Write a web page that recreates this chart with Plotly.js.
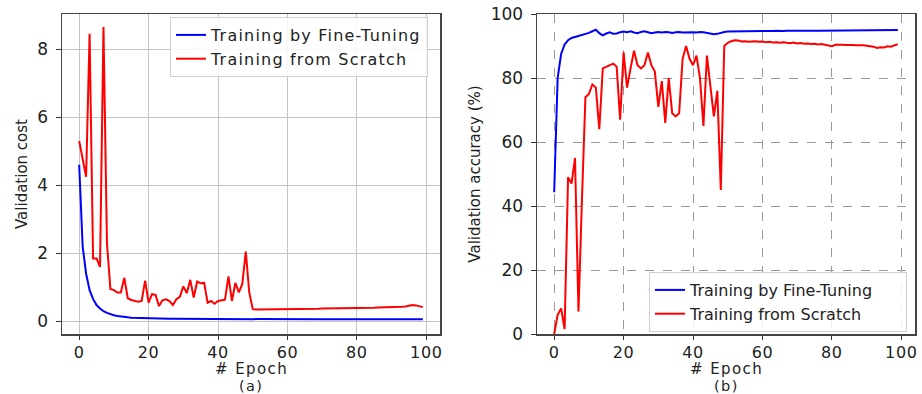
<!DOCTYPE html>
<html>
<head>
<meta charset="utf-8">
<script src="https://cdn.plot.ly/plotly-3.0.1.min.js"></script>
<style>
html,body{margin:0;padding:0;background:#fff;}
#chart{width:922px;height:394px;}
.legendtext{letter-spacing:1.2px;}
.annotation-text{letter-spacing:1.4px;}
.xtick text, .x2tick text{letter-spacing:0.6px;}
</style>
</head>
<body>
<div id="chart"></div>
<script>
// Epochs 0..99
const epochs = [0,1,2,3,4,5,6,7,8,9,10,11,12,13,14,15,16,17,18,19,20,21,22,23,24,25,26,27,28,29,30,31,32,33,34,35,36,37,38,39,40,41,42,43,44,45,46,47,48,49,50,51,52,53,54,55,56,57,58,59,60,61,62,63,64,65,66,67,68,69,70,71,72,73,74,75,76,77,78,79,80,81,82,83,84,85,86,87,88,89,90,91,92,93,94,95,96,97,98,99];

// (a) Validation cost
const costFineTuning = [4.6,2.2,1.4,0.92,0.66,0.48,0.38,0.3,0.25,0.21,0.18,0.16,0.14,0.13,0.12,0.11,0.105,0.1,0.095,0.09,0.088,0.085,0.083,0.081,0.08,0.078,0.077,0.076,0.075,0.074,0.073,0.072,0.071,0.07,0.07,0.069,0.068,0.068,0.067,0.067,0.066,0.066,0.065,0.065,0.065,0.064,0.064,0.064,0.063,0.063,0.063,0.063,0.062,0.062,0.062,0.062,0.062,0.061,0.061,0.061,0.061,0.061,0.061,0.06,0.06,0.06,0.06,0.06,0.06,0.06,0.06,0.06,0.06,0.06,0.06,0.06,0.06,0.06,0.06,0.06,0.06,0.06,0.06,0.06,0.06,0.06,0.06,0.06,0.06,0.06,0.06,0.06,0.06,0.06,0.06,0.06,0.06,0.06,0.06,0.06];
const costScratch = [5.3,4.8,4.25,8.45,1.85,1.85,1.6,8.65,2.3,0.95,0.92,0.85,0.85,1.28,0.68,0.63,0.6,0.58,0.6,1.2,0.55,0.8,0.78,0.45,0.62,0.65,0.6,0.48,0.65,0.72,1.03,0.83,1.22,0.7,1.17,1.12,1.13,0.55,0.6,0.52,0.6,0.62,0.64,1.32,0.6,1.13,0.85,1.1,2.05,0.85,0.36,0.35,0.35,0.35,0.35,0.35,0.35,0.35,0.35,0.36,0.36,0.36,0.36,0.36,0.36,0.37,0.37,0.37,0.37,0.37,0.38,0.38,0.38,0.38,0.38,0.39,0.39,0.39,0.39,0.39,0.4,0.4,0.4,0.4,0.4,0.4,0.41,0.41,0.41,0.41,0.42,0.42,0.42,0.43,0.44,0.46,0.48,0.47,0.44,0.42];

// (b) Validation accuracy (%)
const accFineTuning = [44.3,80,87.5,90.5,91.8,92.5,92.8,93.1,93.4,93.8,94.1,94.6,95.1,94,93.3,93.9,94.3,93.8,93.9,94.3,94.5,94.3,94.6,94.2,94,94.4,94.6,94.3,94,94.2,94.4,94.2,94.4,94.3,94.1,94.3,94.4,94.2,94.3,94.4,94.3,94.2,94.4,94.3,94.1,93.9,93.7,93.8,94.2,94.4,94.5,94.5,94.6,94.6,94.5,94.6,94.6,94.7,94.6,94.7,94.7,94.6,94.7,94.7,94.8,94.7,94.7,94.8,94.7,94.8,94.8,94.7,94.8,94.8,94.7,94.8,94.8,94.8,94.8,94.9,94.8,94.8,94.8,94.9,94.8,94.8,94.9,94.8,94.9,94.9,94.8,94.9,94.9,94.8,94.9,94.9,94.9,94.9,95,95];
const accScratch = [0,6,8,1.5,49,47,55,7,42,74,75,78,77,64,83,83.5,84,84.5,83.5,67,88,77,83,88.5,84,83,84,88,84,82,71,79,66,80,69,68,69,86,90,86,84,87,80,65,87,78,68,76,45,90,91,91.5,91.8,91.7,91.4,91.5,91.3,91.4,91.5,91.3,91.4,91.2,91.3,91.1,91.2,91,91.2,91,90.9,91.1,90.8,90.9,90.7,90.8,90.6,90.7,90.5,90.6,90.4,90.3,89.9,90.4,90.5,90.4,90.3,90.4,90.3,90.2,90.3,90.2,90.1,90,89.8,89.4,89.6,89.5,89.9,89.8,90.2,90.6];

const seriesNames = ['Training by Fine-Tuning', 'Training from Scratch'];
const xTicks = [0,20,40,60,80,100];
const costTicks = [0,2,4,6,8];
const accTicks = [0,20,40,60,80,100];
const xTitle = '# Epoch';
const yTitles = ['Validation cost', 'Validation accuracy (%)'];
const panelLabels = ['(a)', '(b)'];

const FONT = 'DejaVu Sans, sans-serif';
const TXT = '#222';
const BLUE = '#0000ff', RED = '#ff0000';

const traces = [
  {x: epochs, y: costFineTuning, name: seriesNames[0], mode: 'lines', line: {color: BLUE, width: 2}, xaxis: 'x', yaxis: 'y', legend: 'legend'},
  {x: epochs, y: costScratch, name: seriesNames[1], mode: 'lines', line: {color: RED, width: 2}, xaxis: 'x', yaxis: 'y', legend: 'legend'},
  {x: epochs, y: accFineTuning, name: seriesNames[0], mode: 'lines', line: {color: BLUE, width: 2}, xaxis: 'x2', yaxis: 'y2', legend: 'legend2'},
  {x: epochs, y: accScratch, name: seriesNames[1], mode: 'lines', line: {color: RED, width: 2}, xaxis: 'x2', yaxis: 'y2', legend: 'legend2'}
];

function xAxis(domain, anchor, dash, gcol) {
  return {
    domain: domain, anchor: anchor, range: [-4.95, 103.95],
    tickvals: xTicks, ticktext: xTicks.map(String),
    ticks: 'outside', ticklen: 4, tickwidth: 1, tickcolor: '#333', ticklabelstandoff: -1,
    showline: true, mirror: true, linecolor: '#444', linewidth: 1.5,
    showgrid: true, gridcolor: gcol, gridwidth: 1, griddash: dash, zeroline: false,
    tickfont: {family: FONT, size: 16, color: TXT}
  };
}
function yAxis(domain, anchor, range, ticks, title, dash, gcol) {
  return {
    domain: domain, anchor: anchor, range: range,
    tickvals: ticks, ticktext: ticks.map(String),
    ticks: 'outside', ticklen: 5, tickwidth: 1, tickcolor: '#333', ticklabelstandoff: 4,
    showline: true, mirror: true, linecolor: '#444', linewidth: 1.5,
    showgrid: true, gridcolor: gcol, gridwidth: 1, griddash: dash, zeroline: false,
    tickfont: {family: FONT, size: 17, color: TXT},
    title: {text: title, font: {family: FONT, size: 15, color: TXT}, standoff: 6}
  };
}

const xDomA = [62/922, 440/922], xDomB = [537/922, 915/922];
const yDom = [1 - 334/394, 1 - 14/394];
function label(text, dom, ypx, size) {
  return {text: text, xref: 'paper', yref: 'paper', x: (dom[0] + dom[1]) / 2, y: 1 - ypx/394,
    xanchor: 'center', yanchor: 'middle', showarrow: false, borderpad: 0,
    font: {family: FONT, size: size, color: TXT}};
}
const legendStyle = {bgcolor: 'rgba(255,255,255,0.85)', bordercolor: '#d0d0d0', borderwidth: 1,
  font: {family: FONT, size: 16, color: TXT}, tracegroupgap: 0};

const layout = {
  width: 922, height: 394,
  margin: {l: 0, r: 0, t: 0, b: 0},
  paper_bgcolor: '#fff', plot_bgcolor: '#fff',
  showlegend: true,
  xaxis: xAxis(xDomA, 'y', 'solid', '#c4c4c4'),
  yaxis: yAxis(yDom, 'x', [-0.37, 9.03], costTicks, yTitles[0], 'solid', '#c4c4c4'),
  xaxis2: xAxis(xDomB, 'y2', 'dash', '#999'),
  yaxis2: yAxis(yDom, 'x2', [0, 100], accTicks, yTitles[1], 'dash', '#999'),
  legend: Object.assign({x: 428/922, y: 1 - 17/394, xanchor: 'right', yanchor: 'top'}, legendStyle),
  legend2: Object.assign({x: 907/922, y: 1 - 332/394, xanchor: 'right', yanchor: 'bottom'}, legendStyle),
  annotations: [
    label(xTitle, xDomA, 368.5, 15), label(panelLabels[0], xDomA, 385.5, 14.5),
    label(xTitle, xDomB, 368.5, 15), label(panelLabels[1], xDomB, 385.5, 14.5)
  ]
};

Plotly.newPlot('chart', traces, layout, {staticPlot: true, displayModeBar: false});
</script>
</body>
</html>
